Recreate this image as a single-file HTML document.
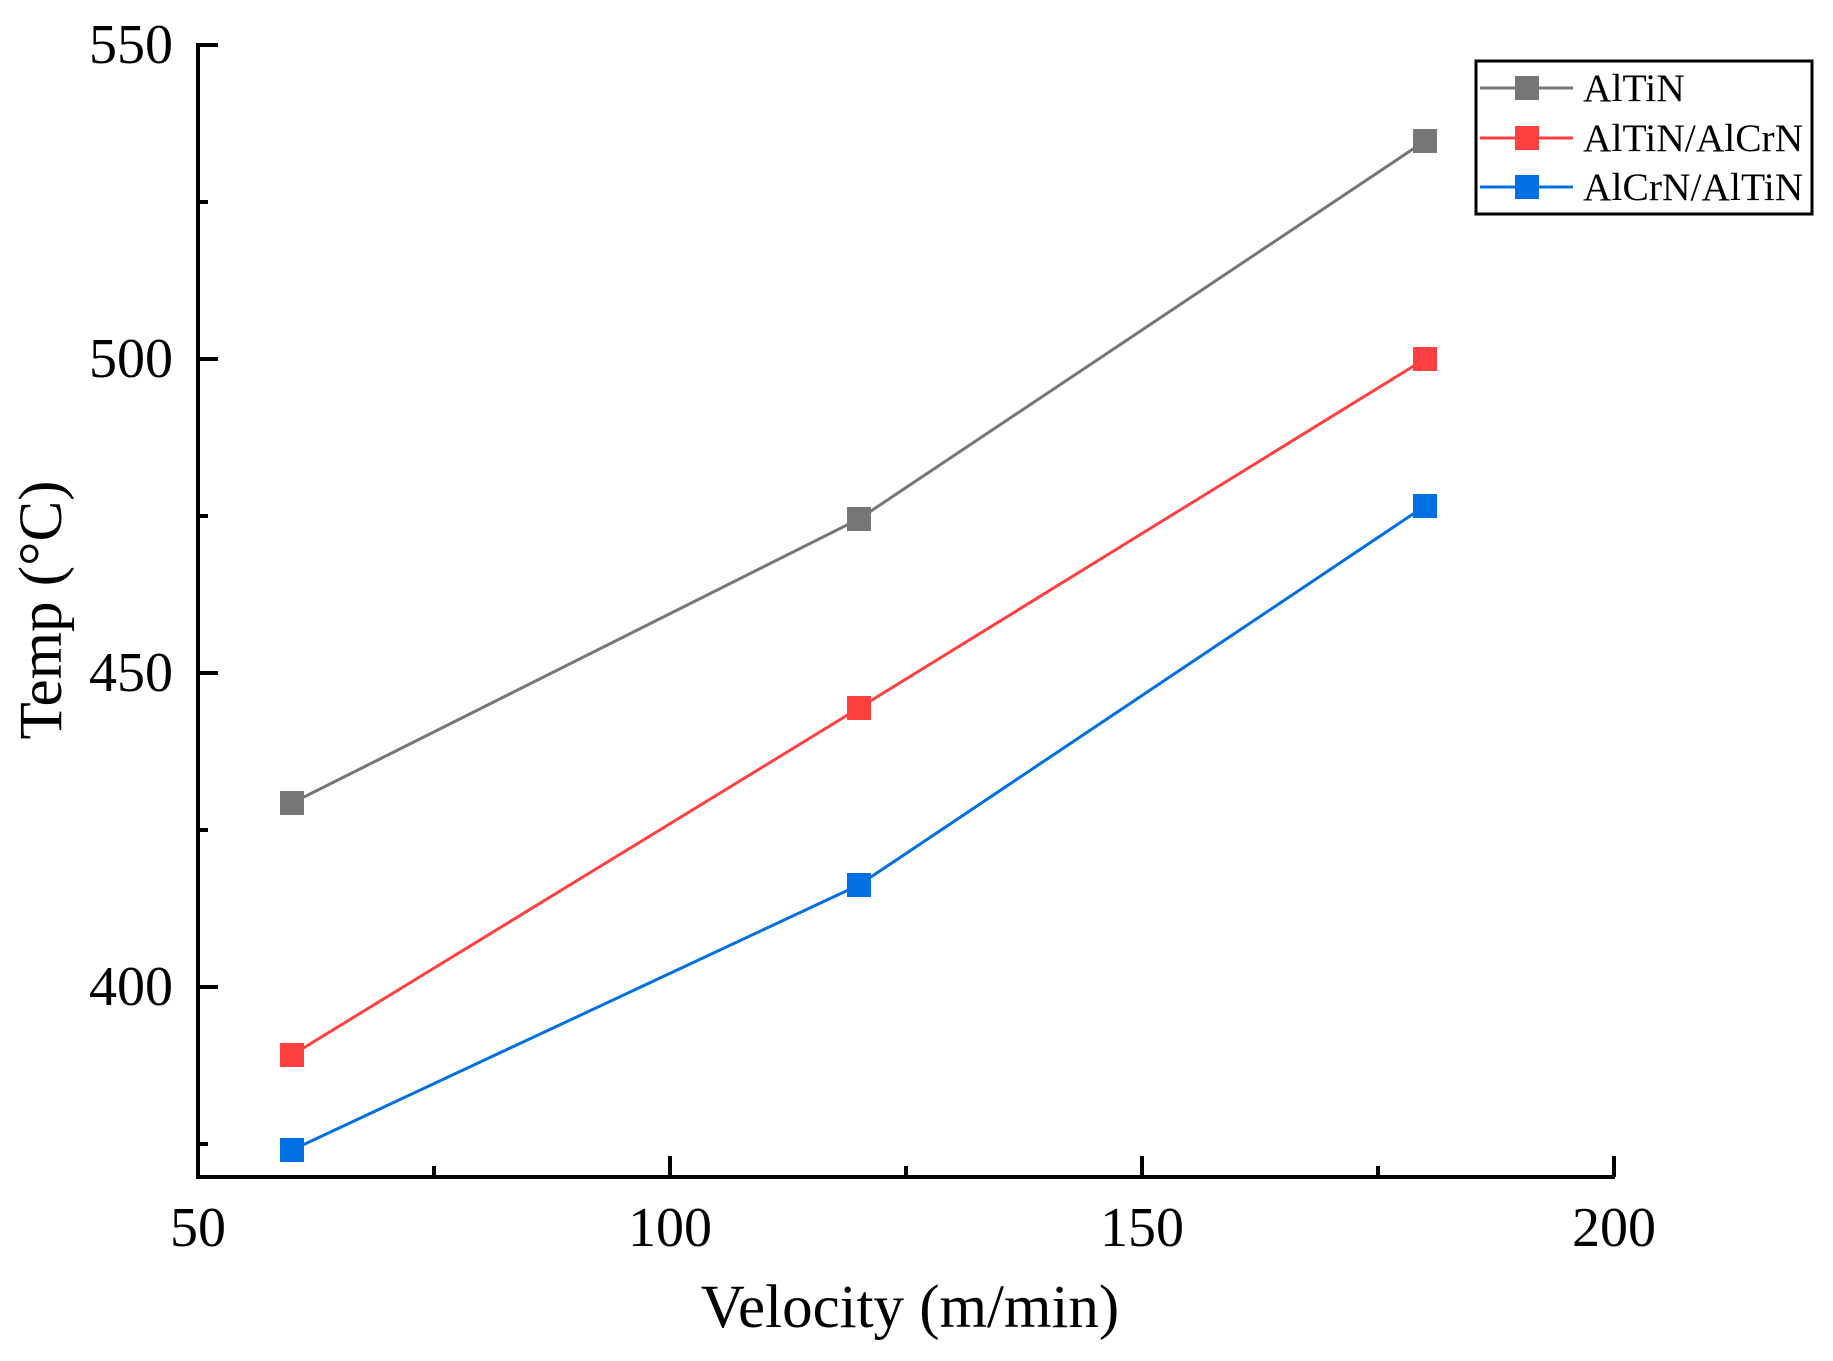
<!DOCTYPE html>
<html><head><meta charset="utf-8"><style>
html,body{margin:0;padding:0;background:#fff;}
svg{display:block;}
text{font-family:"Liberation Serif",serif;fill:#000;}
</style></head><body>
<svg width="1833" height="1361" viewBox="0 0 1833 1361" xmlns="http://www.w3.org/2000/svg">
<g stroke="#000" stroke-width="4" fill="none">
<line x1="198" y1="43" x2="198" y2="1179"/>
<line x1="196" y1="1177" x2="1615" y2="1177"/>
<line x1="1614" y1="1177" x2="1614" y2="1156"/>
<line x1="198" y1="45" x2="218" y2="45"/>
<line x1="198" y1="359" x2="218" y2="359"/>
<line x1="198" y1="673" x2="218" y2="673"/>
<line x1="198" y1="987" x2="218" y2="987"/>
<line x1="198" y1="202" x2="208" y2="202"/>
<line x1="198" y1="516" x2="208" y2="516"/>
<line x1="198" y1="830" x2="208" y2="830"/>
<line x1="198" y1="1144" x2="208" y2="1144"/>
<line x1="670" y1="1177" x2="670" y2="1156"/>
<line x1="1142" y1="1177" x2="1142" y2="1156"/>
<line x1="434" y1="1177" x2="434" y2="1166"/>
<line x1="906" y1="1177" x2="906" y2="1166"/>
<line x1="1378" y1="1177" x2="1378" y2="1166"/>
</g>
<g font-size="56" text-anchor="end">
<text x="173" y="63">550</text>
<text x="173" y="377">500</text>
<text x="173" y="691">450</text>
<text x="173" y="1005">400</text>
</g>
<g font-size="56" text-anchor="middle">
<text x="198" y="1246">50</text>
<text x="670" y="1246">100</text>
<text x="1142" y="1246">150</text>
<text x="1614" y="1246">200</text>
</g>
<text x="910" y="1327" font-size="61" text-anchor="middle">Velocity (m/min)</text>
<text transform="translate(61,610) rotate(-90)" font-size="61" text-anchor="middle">Temp (°C)</text>
<g stroke-width="3" fill="none">
<polyline stroke="#767676" points="292,803 859,519 1425,141"/>
<polyline stroke="#FF4040" points="292,1055 859,708 1425,359"/>
<polyline stroke="#0070E0" points="292,1150 859,885 1425,506"/>
</g>
<g fill="#767676"><rect x="280" y="791" width="24" height="24"/><rect x="847" y="507" width="24" height="24"/><rect x="1413" y="129" width="24" height="24"/></g>
<g fill="#FF4040"><rect x="280" y="1043" width="24" height="24"/><rect x="847" y="696" width="24" height="24"/><rect x="1413" y="347" width="24" height="24"/></g>
<g fill="#0070E0"><rect x="280" y="1138" width="24" height="24"/><rect x="847" y="873" width="24" height="24"/><rect x="1413" y="494" width="24" height="24"/></g>
<rect x="1476" y="61" width="336" height="153" fill="#fff" stroke="#000" stroke-width="3"/>
<line x1="1480" y1="88" x2="1573" y2="88" stroke="#767676" stroke-width="3"/>
<rect x="1515" y="76" width="24" height="24" fill="#767676"/>
<line x1="1480" y1="138" x2="1573" y2="138" stroke="#FF4040" stroke-width="3"/>
<rect x="1515" y="126" width="24" height="24" fill="#FF4040"/>
<line x1="1480" y1="187" x2="1573" y2="187" stroke="#0070E0" stroke-width="3"/>
<rect x="1515" y="175" width="24" height="24" fill="#0070E0"/>
<g font-size="39.5">
<text x="1583" y="101">AlTiN</text>
<text x="1583" y="151">AlTiN/AlCrN</text>
<text x="1583" y="200">AlCrN/AlTiN</text>
</g>
</svg>
</body></html>
